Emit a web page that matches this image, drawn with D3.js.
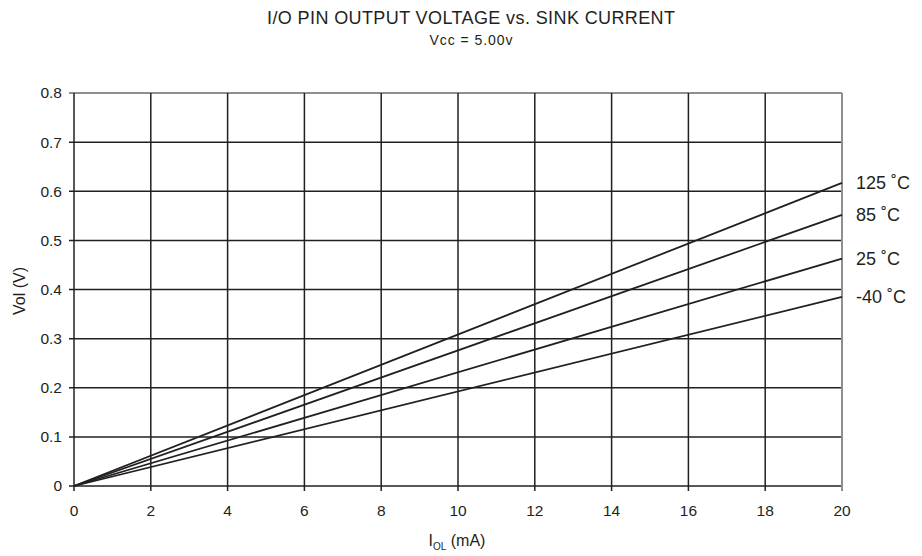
<!DOCTYPE html>
<html><head><meta charset="utf-8">
<script src="https://cdn.jsdelivr.net/npm/d3@7"></script>
<style>
html,body{margin:0;padding:0;background:#fff;}
svg text{font-family:"Liberation Sans",Arial,Helvetica,sans-serif;fill:#231f20;}
</style></head>
<body><svg id="c" width="922" height="556"></svg>
<script>
// Data
const currents = [0, 20];               // I_OL (mA)
const seriesNames = ["125 ˚C", "85 ˚C", "25 ˚C", "-40 ˚C"];
const v125 = [0, 0.617];
const v85  = [0, 0.552];
const v25  = [0, 0.463];
const vm40 = [0, 0.385];
const xTicks = [0,2,4,6,8,10,12,14,16,18,20];
const yTicks = [0,0.1,0.2,0.3,0.4,0.5,0.6,0.7,0.8];
const yTickLabels = ["0","0.1","0.2","0.3","0.4","0.5","0.6","0.7","0.8"];
const titleText = "I/O PIN OUTPUT VOLTAGE vs. SINK CURRENT";
const subtitleText = "Vcc = 5.00v";

const series = [v125, v85, v25, vm40].map((vals, i) => ({
  name: seriesNames[i],
  pts: currents.map((c, j) => ({x: c, y: vals[j]}))
}));

const svg = d3.select("#c");
const m = {left: 74, right: 842, top: 93, bottom: 486};
const x = d3.scaleLinear().domain([0, 20]).range([m.left, m.right]);
const y = d3.scaleLinear().domain([0, 0.8]).range([m.bottom, m.top]);

const dark = "#231f20", grey = "#8b9097";

// grid: horizontal
svg.append("g").selectAll("line").data(yTicks).join("line")
  .attr("x1", d => x(0) - 5).attr("x2", x(20))
  .attr("y1", d => y(d)).attr("y2", d => y(d))
  .attr("stroke", d => d === 0.8 ? grey : dark)
  .attr("stroke-width", d => d === 0.8 ? 2 : 1.5);
// grid: vertical
svg.append("g").selectAll("line").data(xTicks).join("line")
  .attr("y1", d => y(0.8)).attr("y2", y(0) + 5)
  .attr("x1", d => x(d)).attr("x2", d => x(d))
  .attr("stroke", d => d === 20 ? grey : dark)
  .attr("stroke-width", d => d === 20 ? 2 : 1.5);

// y tick labels
svg.append("g").selectAll("text").data(yTicks).join("text")
  .attr("x", x(0) - 12).attr("y", d => y(d)).attr("dy", "0.35em")
  .attr("text-anchor", "end").style("font-size", "15.5px")
  .text((d, i) => yTickLabels[i]);
// x tick labels
svg.append("g").selectAll("text").data(xTicks).join("text")
  .attr("x", d => x(d)).attr("y", y(0) + 30)
  .attr("text-anchor", "middle").style("font-size", "15.5px")
  .text(d => d);

// lines
const line = d3.line().x(d => x(d.x)).y(d => y(d.y));
svg.append("g").selectAll("path").data(series).join("path")
  .attr("d", d => line(d.pts)).attr("fill", "none")
  .attr("stroke", dark).attr("stroke-width", 1.8);

// labels
svg.append("g").selectAll("text").data(series).join("text")
  .attr("x", x(20) + 14)
  .attr("y", d => y(d.pts[d.pts.length - 1].y)).attr("dy", "0.35em")
  .style("font-size", "18px")
  .text(d => d.name);

// titles
svg.append("text").attr("x", 471).attr("y", 24).attr("text-anchor", "middle")
  .style("font-size", "18px").attr("textLength", 408).attr("lengthAdjust", "spacing")
  .text(titleText);
svg.append("text").attr("x", 471).attr("y", 45).attr("text-anchor", "middle")
  .style("font-size", "14px").attr("textLength", 83).attr("lengthAdjust", "spacing")
  .text(subtitleText);

// axis titles
const xt = svg.append("text").attr("x", 457).attr("y", 546)
  .attr("text-anchor", "middle").style("font-size", "16px");
xt.append("tspan").text("I");
xt.append("tspan").attr("dy", 4).style("font-size", "10px").text("OL");
xt.append("tspan").attr("dy", -4).text(" (mA)");

svg.append("text").attr("transform", "translate(25,291) rotate(-90)")
  .attr("text-anchor", "middle").style("font-size", "16px")
  .text("Vol (V)");
</script></body></html>
